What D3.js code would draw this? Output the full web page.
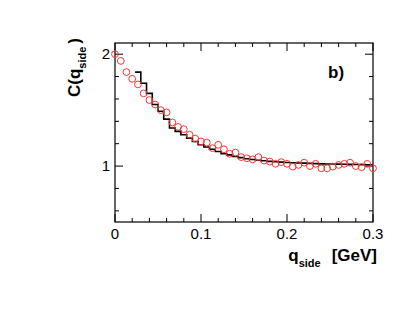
<!DOCTYPE html>
<html>
<head>
<meta charset="utf-8">
<style>
  body { margin: 0; background: #fff; }
  svg text { font-family: "Liberation Sans", Arial, Helvetica, sans-serif; fill: #000; }
  .tick-label { font-size: 15px; }
  .title { font-size: 17px; font-weight: bold; }
  .sub { font-size: 11px; }
</style>
<script src="https://cdn.jsdelivr.net/npm/d3@7"></script>
</head>
<body>
<svg width="415" height="313"></svg>
<script>
// q_side bin centres [GeV]
var qside = [0, 0.0067, 0.0133, 0.02, 0.0267, 0.0333, 0.04, 0.0467, 0.0533, 0.06,
  0.0667, 0.0733, 0.08, 0.0867, 0.0933, 0.1, 0.1067, 0.1133, 0.12, 0.1267,
  0.1333, 0.14, 0.1467, 0.1533, 0.16, 0.1667, 0.1733, 0.18, 0.1867, 0.1933,
  0.2, 0.2067, 0.2133, 0.22, 0.2267, 0.2333, 0.24, 0.2467, 0.2533, 0.26,
  0.2667, 0.2733, 0.28, 0.2867, 0.2933, 0.3];

// measured correlation function (red open circles)
var cData = [2.00, 1.94, 1.84, 1.78, 1.73, 1.65, 1.59, 1.55, 1.50, 1.48,
  1.39, 1.35, 1.33, 1.28, 1.245, 1.22, 1.21, 1.16, 1.19, 1.15,
  1.11, 1.12, 1.08, 1.07, 1.06, 1.08, 1.05, 1.04, 1.02, 1.035,
  1.02, 0.995, 1.01, 1.03, 1.0, 1.02, 0.98, 0.98, 0.995, 1.01,
  1.02, 1.03, 1.0, 0.99, 1.02, 0.98];

// model histogram (black line), starts at bin 4
var histStart = 4;
var cModel = [1.84, 1.74, 1.65, 1.55, 1.49, 1.42, 1.34, 1.31, 1.28, 1.25,
  1.22, 1.19, 1.17, 1.15, 1.13, 1.11, 1.10, 1.085, 1.075, 1.065,
  1.058, 1.052, 1.047, 1.042, 1.038, 1.035, 1.032, 1.03, 1.028, 1.026,
  1.024, 1.022, 1.02, 1.019, 1.018, 1.017, 1.016, 1.015, 1.014, 1.013,
  1.012, 1.011];

var xTickLabels = [0, 0.1, 0.2, 0.3];
var yTickLabels = [1, 2];

var svg = d3.select("svg");
var mLeft = 115, mRight = 373, mTop = 43, mBottom = 222;

var x = d3.scaleLinear().domain([0, 0.3]).range([mLeft, mRight]);
var y = d3.scaleLinear().domain([0.5, 2.1]).range([mBottom, mTop]);

// frame
svg.append("rect")
  .attr("x", mLeft).attr("y", mTop)
  .attr("width", mRight - mLeft).attr("height", mBottom - mTop)
  .attr("fill", "none").attr("stroke", "#000").attr("stroke-width", 1.2);

// ticks (inward, ROOT style)
var xMinor = d3.range(0, 0.3001, 0.02);
var yMinor = d3.range(0.6, 2.05, 0.2);

var tk = svg.append("g").attr("stroke", "#000").attr("stroke-width", 1);
xMinor.forEach(function(v) {
  var isMaj = xTickLabels.some(function(m) { return Math.abs(m - v) < 1e-6; });
  var len = isMaj ? 8 : 4;
  tk.append("line").attr("x1", x(v)).attr("x2", x(v)).attr("y1", mBottom).attr("y2", mBottom - len);
  tk.append("line").attr("x1", x(v)).attr("x2", x(v)).attr("y1", mTop).attr("y2", mTop + len);
});
yMinor.forEach(function(v) {
  var isMaj = yTickLabels.some(function(m) { return Math.abs(m - v) < 1e-6; });
  var len = isMaj ? 8 : 4;
  tk.append("line").attr("x1", mLeft).attr("x2", mLeft + len).attr("y1", y(v)).attr("y2", y(v));
  tk.append("line").attr("x1", mRight).attr("x2", mRight - len).attr("y1", y(v)).attr("y2", y(v));
});

// tick labels
svg.selectAll(".xl").data(xTickLabels).enter().append("text")
  .attr("class", "tick-label")
  .attr("x", function(d) { return x(d); })
  .attr("y", 239)
  .attr("text-anchor", "middle")
  .text(function(d) { return d === 0 ? "0" : d3.format(".1f")(d); });

svg.selectAll(".yl").data(yTickLabels).enter().append("text")
  .attr("class", "tick-label")
  .attr("x", mLeft - 5)
  .attr("y", function(d) { return y(d) + 5; })
  .attr("text-anchor", "end")
  .text(function(d) { return d; });

// axis titles
var xt = svg.append("text").attr("class", "title")
  .attr("x", mRight + 4).attr("y", 261).attr("text-anchor", "end");
xt.append("tspan").text("q");
xt.append("tspan").attr("class", "sub").attr("dy", 6).text("side");
xt.append("tspan").attr("dy", -6).attr("dx", 11).text("[GeV]");

var yt = svg.append("text").attr("class", "title")
  .attr("transform", "translate(80,97) rotate(-90)");
yt.append("tspan").text("C(q");
yt.append("tspan").attr("class", "sub").attr("dy", 6).text("side");
yt.append("tspan").attr("dy", -6).attr("dx", 3).text(")");

svg.append("text").attr("class", "title")
  .attr("x", 328).attr("y", 78).text("b)");

// model histogram
var halfW = (qside[1] - qside[0]) / 2;
var pts = [];
cModel.forEach(function(v, i) {
  var c = qside[histStart + i];
  pts.push([Math.max(0, c - halfW), v]);
  pts.push([Math.min(0.3, c + halfW), v]);
});
svg.append("path")
  .datum(pts)
  .attr("fill", "none")
  .attr("stroke", "#000")
  .attr("stroke-width", 1.6)
  .attr("d", d3.line().x(function(d) { return x(d[0]); }).y(function(d) { return y(d[1]); }));

// data points
svg.selectAll(".pt").data(cData).enter().append("circle")
  .attr("cx", function(d, i) { return x(qside[i]); })
  .attr("cy", function(d) { return y(d); })
  .attr("r", 3.4)
  .attr("fill", "none")
  .attr("stroke", "#ff3333")
  .attr("stroke-width", 1);
</script>
</body>
</html>
